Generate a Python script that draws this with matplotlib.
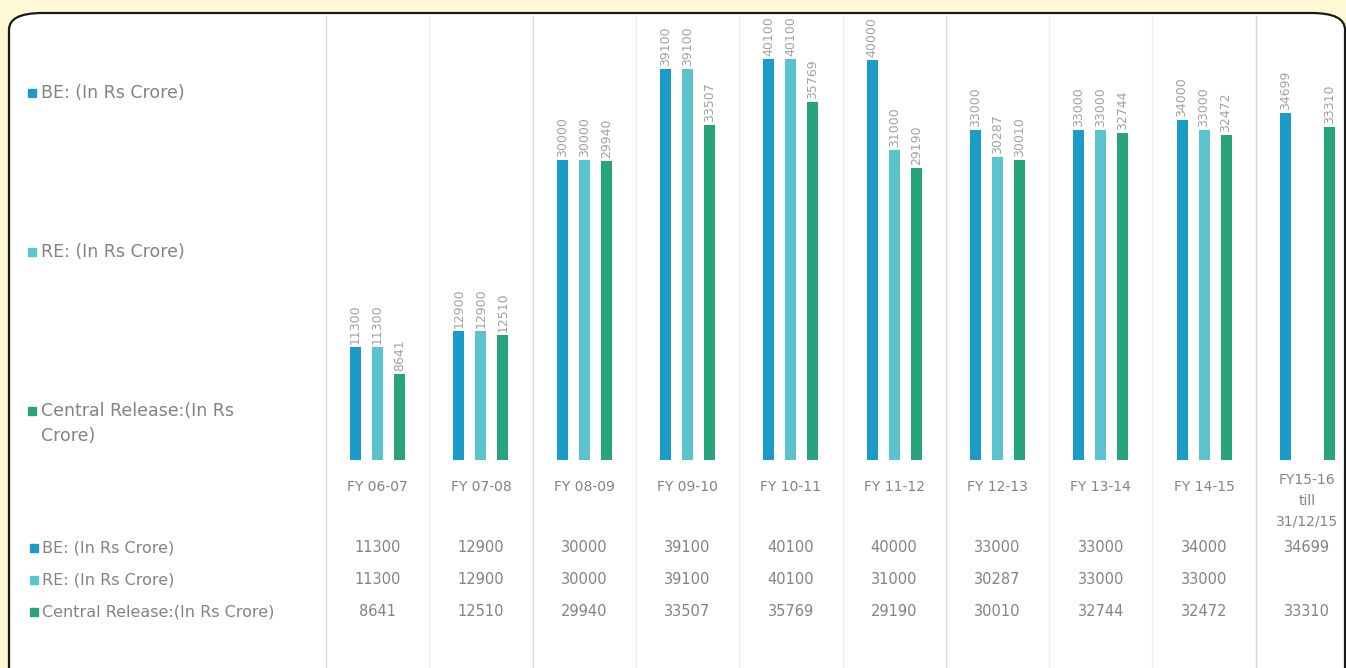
import numpy as np
import matplotlib.pyplot as plt
from matplotlib.patches import FancyBboxPatch, Rectangle
from matplotlib.transforms import blended_transform_factory

# data
categories = ['FY 06-07', 'FY 07-08', 'FY 08-09', 'FY 09-10', 'FY 10-11', 'FY 11-12',
              'FY 12-13', 'FY 13-14', 'FY 14-15', 'FY15-16\ntill\n31/12/15']
be_values = [11300, 12900, 30000, 39100, 40100, 40000, 33000, 33000, 34000, 34699]
re_values = [11300, 12900, 30000, 39100, 40100, 31000, 30287, 33000, 33000, np.nan]
cr_values = [8641, 12510, 29940, 33507, 35769, 29190, 30010, 32744, 32472, 33310]
series_names = ['BE: (In Rs Crore)', 'RE: (In Rs Crore)', 'Central Release:(In Rs Crore)']

colors = ['#1b9bc8', '#5ac3ce', '#27a47b']
text_color = '#838383'
W, H = 1346, 668

plt.rcParams['font.family'] = ['DejaVu Sans']

fig = plt.figure(figsize=(W / 100, H / 100), dpi=100)
fig.patch.set_facecolor('#fff8d4')


def fx(px):
    return px / W


def fy(py):
    return 1 - py / H


# rounded white panel
panel = FancyBboxPatch((fx(9), fy(690)), fx(1345 - 9), fy(13) - fy(690),
                       boxstyle='round,pad=0,rounding_size=0.025',
                       transform=fig.transFigure, facecolor='white',
                       edgecolor='#1a1a1a', linewidth=1.6, zorder=-5)
fig.patches.append(panel)

# bar area
ax = fig.add_axes([fx(326), fy(460), fx(1359 - 326), fy(14) - fy(460)])
ax.set_zorder(2)
ax.set_facecolor('none')
ax.set_xlim(-0.5, len(categories) - 0.5)
ax.set_ylim(0, 44600)
for s in ax.spines.values():
    s.set_visible(False)
ax.set_xticks([])
ax.set_yticks([])

x = np.arange(len(categories))
offset = 22 / 103.3
width = 11 / 103.3
for k, vals in enumerate([be_values, re_values, cr_values]):
    pos = x + (k - 1) * offset
    ax.bar(pos, vals, width=width, color=colors[k], zorder=3)
    for p, v in zip(pos, vals):
        if np.isnan(v):
            continue
        ax.text(p, v + 300, f'{v:.0f}', rotation=90, ha='center', va='bottom',
                fontsize=9, color='#a2a2a2', clip_on=False)

# column separators (run through the data table too)
bt = blended_transform_factory(ax.transData, fig.transFigure)
strong = {0, 2, 6, 9}
for b in range(len(categories)):
    c = '#d6d6d6' if b in strong else '#f0f0f0'
    ax.plot([b - 0.5, b - 0.5], [fy(16), fy(668)], transform=bt, color=c,
            lw=1, clip_on=False, zorder=1)

# category labels
for i, cat in enumerate(categories):
    ycat = 487 if '\n' not in cat else 501
    ax.text(i, fy(ycat), cat, transform=bt, ha='center', va='center',
            fontsize=10, color=text_color, linespacing=1.6, clip_on=False)

# left legend
legend_y = [93, 252, 411]
legend_txt = ['BE: (In Rs Crore)', 'RE: (In Rs Crore)', 'Central Release:(In Rs']
for k in range(3):
    fig.patches.append(Rectangle((fx(28), fy(legend_y[k] + 4)), fx(8), fy(0) - fy(8),
                                 transform=fig.transFigure, color=colors[k]))
    fig.text(fx(41), fy(legend_y[k]), legend_txt[k], ha='left', va='center',
             fontsize=12.5, color=text_color)
fig.text(fx(41), fy(436), 'Crore)', ha='left', va='center', fontsize=12.5, color=text_color)

# data table
row_y = [548, 580, 612]
for k, vals in enumerate([be_values, re_values, cr_values]):
    fig.patches.append(Rectangle((fx(30), fy(row_y[k] + 4)), fx(8), fy(0) - fy(8),
                                 transform=fig.transFigure, color=colors[k]))
    fig.text(fx(42), fy(row_y[k]), series_names[k], ha='left', va='center',
             fontsize=11.5, color=text_color)
    for i, v in enumerate(vals):
        if np.isnan(v):
            continue
        ax.text(i, fy(row_y[k]), f'{v:.0f}', transform=bt, ha='center', va='center',
                fontsize=10.5, color=text_color, clip_on=False)

fig.savefig('out.png', dpi=100, facecolor=fig.get_facecolor())
